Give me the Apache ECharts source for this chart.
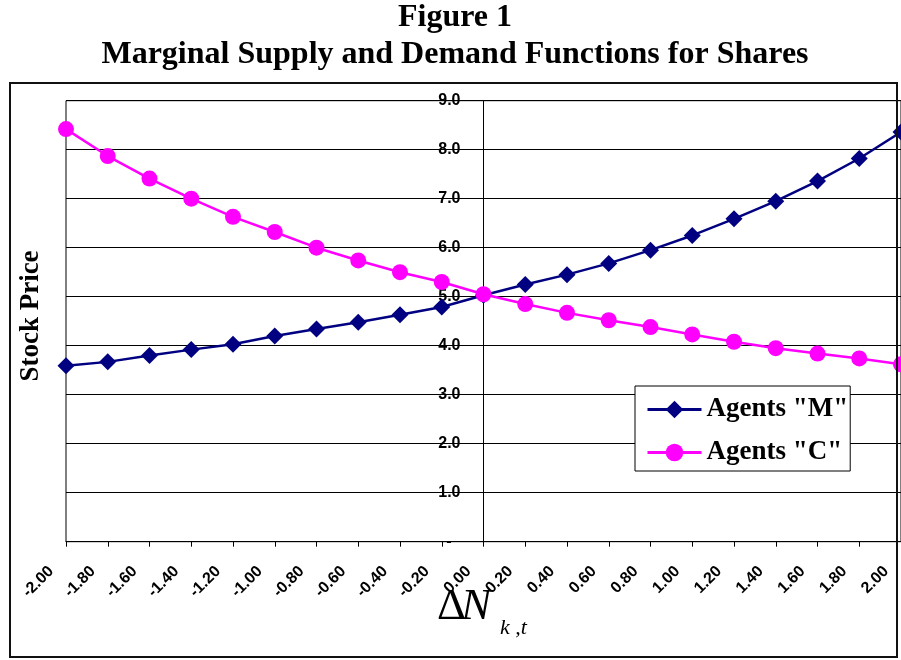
<!DOCTYPE html>
<html>
<head>
<meta charset="utf-8">
<script src="https://cdn.jsdelivr.net/npm/echarts@6/dist/echarts.min.js"></script>
<style>
  html, body { margin: 0; padding: 0; background: #fff; }
  #chart { width: 901px; height: 660px; }
</style>
</head>
<body>
<div id="chart"></div>
<script>
// Data
const xValues = [-2.00, -1.80, -1.60, -1.40, -1.20, -1.00, -0.80, -0.60, -0.40, -0.20, 0.00,
                 0.20, 0.40, 0.60, 0.80, 1.00, 1.20, 1.40, 1.60, 1.80, 2.00];
const agentsM = [3.59, 3.67, 3.80, 3.92, 4.03, 4.20, 4.34, 4.48, 4.63, 4.79, 5.03,
                 5.25, 5.45, 5.68, 5.95, 6.25, 6.59, 6.95, 7.36, 7.82, 8.36];
const agentsC = [8.42, 7.87, 7.41, 7.00, 6.63, 6.32, 6.00, 5.74, 5.50, 5.30, 5.05,
                 4.85, 4.67, 4.52, 4.38, 4.23, 4.08, 3.95, 3.84, 3.74, 3.62];
const seriesNames = ['Agents "M"', 'Agents "C"'];
const yTicks = [0, 1, 2, 3, 4, 5, 6, 7, 8, 9];

const chart = echarts.init(document.getElementById('chart'), null, { renderer: 'canvas' });
const serif = '"Liberation Serif", "Times New Roman", serif';
const sans = '"Liberation Sans", Arial, sans-serif';

const gridLeft = 66, gridRight = 0, chartW = 901;
const plotW = chartW - gridLeft - gridRight;
// y axis sits at x = 0 of the horizontal axis (middle of the plot)
const yAxisOffset = -plotW * (0 - xValues[0]) / (xValues[xValues.length - 1] - xValues[0]);

const option = {
  animation: false,
  backgroundColor: '#fff',
  title: {
    text: 'Figure 1\nMarginal Supply and Demand Functions for Shares',
    left: 455,
    textAlign: 'center',
    top: -1,
    padding: 0,
    textStyle: { fontFamily: serif, fontWeight: 'bold', fontSize: 32, lineHeight: 37, color: '#000' }
  },
  grid: {
    left: gridLeft, right: gridRight, top: 100.7, bottom: 118.3,
    show: true, borderColor: '#000', borderWidth: 1,
    containLabel: false, outerBoundsMode: 'none'
  },
  legend: {
    data: seriesNames,
    orient: 'vertical',
    left: 635, top: 386,
    backgroundColor: '#fff',
    borderColor: '#000', borderWidth: 1,
    padding: [8, 2, 3, 11],
    itemGap: 12,
    itemWidth: 54, itemHeight: 22,
    lineStyle: { width: 3 },
    textStyle: { fontFamily: serif, fontWeight: 'bold', fontSize: 27, lineHeight: 31, color: '#000' }
  },
  xAxis: {
    type: 'value',
    min: -2, max: 2, interval: 0.2,
    axisLine: { onZero: false, lineStyle: { color: '#000', width: 1 } },
    axisTick: { show: true, length: 5, inside: false, lineStyle: { color: '#000' } },
    splitLine: { show: false },
    axisLabel: {
      rotate: 45,
      margin: 42,
      verticalAlign: 'bottom',
      padding: [0, 0, 13, 0],
      fontFamily: sans, fontWeight: 'bold', fontSize: 16, color: '#000',
      hideOverlap: false,
      showMinLabel: true, showMaxLabel: true,
      formatter: v => (Math.abs(v) < 1e-9 ? 0 : v).toFixed(2)
    }
  },
  yAxis: {
    type: 'value',
    min: yTicks[0], max: yTicks[yTicks.length - 1], interval: 1,
    position: 'left',
    offset: yAxisOffset,
    axisLine: { show: true, onZero: false, lineStyle: { color: '#000', width: 1 } },
    axisTick: { show: false },
    splitLine: { show: true, lineStyle: { color: '#000', width: 1 } },
    axisLabel: {
      margin: 23,
      fontFamily: sans, fontWeight: 'bold', fontSize: 16, color: '#000',
      formatter: v => (v === 0 ? '-  ' : v.toFixed(1))
    }
  },
  graphic: [
    {
      type: 'rect', silent: true, z: 100,
      shape: { x: 10, y: 83, width: 887, height: 574 },
      style: { fill: null, stroke: '#111', lineWidth: 2 }
    },
    {
      type: 'text', silent: true,
      x: 31, y: 316, rotation: Math.PI / 2,
      style: { text: 'Stock Price', font: 'bold 27px ' + serif, fill: '#000', align: 'center', verticalAlign: 'middle' }
    },
    {
      type: 'text', silent: true,
      x: 437, y: 607,
      style: { text: 'Δ', font: '45px ' + serif, fill: '#000', align: 'left', verticalAlign: 'middle' }
    },
    {
      type: 'text', silent: true,
      x: 461, y: 607,
      style: { text: 'N', font: 'italic 45px ' + serif, fill: '#000', align: 'left', verticalAlign: 'middle' }
    },
    {
      type: 'text', silent: true,
      x: 500, y: 628,
      style: { text: 'k ,t', font: 'italic 22px ' + serif, fill: '#000', align: 'left', verticalAlign: 'middle' }
    }
  ],
  series: [
    {
      name: seriesNames[0],
      type: 'line',
      data: xValues.map((x, i) => [x, agentsM[i]]),
      symbol: 'diamond', symbolSize: 17,
      itemStyle: { color: '#000080' },
      lineStyle: { color: '#000080', width: 2.5 },
      clip: false, z: 3
    },
    {
      name: seriesNames[1],
      type: 'line',
      data: xValues.map((x, i) => [x, agentsC[i]]),
      symbol: 'circle', symbolSize: 16,
      itemStyle: { color: '#FF00FF' },
      lineStyle: { color: '#FF00FF', width: 2.5 },
      clip: false, z: 4
    }
  ]
};
chart.setOption(option);
</script>
</body>
</html>
